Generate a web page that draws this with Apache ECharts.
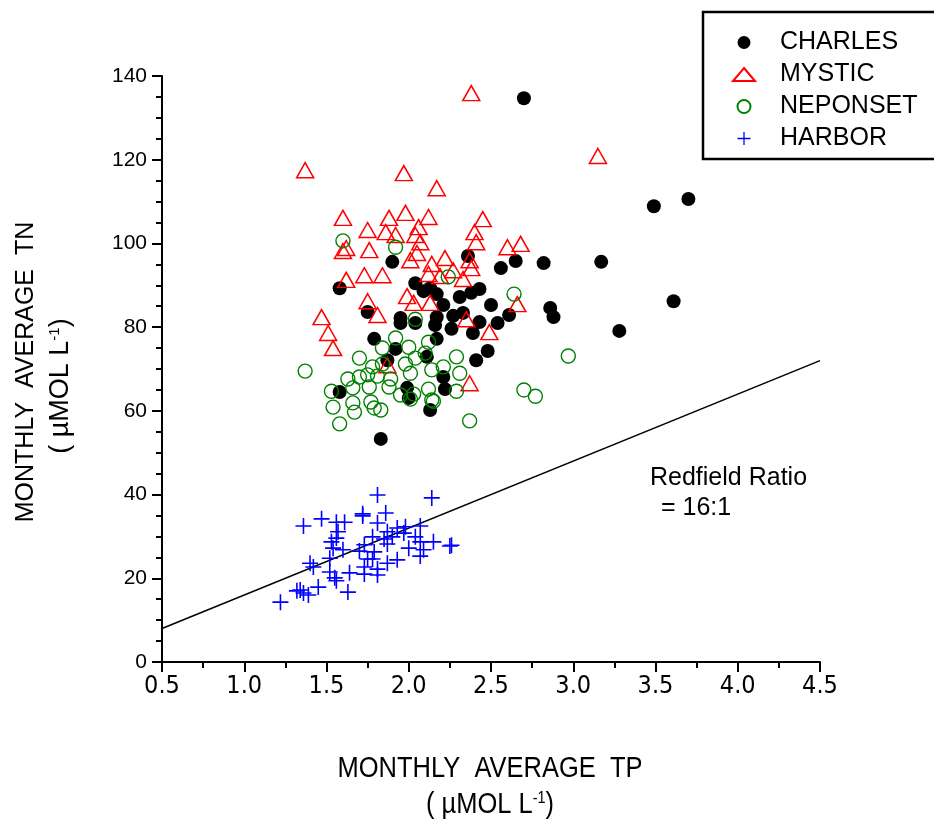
<!DOCTYPE html>
<html><head><meta charset="utf-8">
<script src="https://cdn.jsdelivr.net/npm/echarts@6/dist/echarts.min.js"></script>
<style>html,body{margin:0;padding:0;background:#fff}#c{width:934px;height:821px}</style>
</head><body><div id="c"></div>
<script>
// TP (x), TN (y) in umol/L
const charles = [
[2.70,134.7],[3.70,110.6],[3.49,108.9],[3.17,95.6],[3.61,86.2],[3.28,79.1],[2.86,84.6],[2.88,82.4],
[2.82,95.3],[2.65,95.8],[2.56,94.1],[2.61,82.9],[2.50,85.3],[2.43,89.1],[2.38,88.2],[2.31,87.2],
[2.27,82.7],[2.36,97.0],[1.90,95.6],[1.58,89.3],[1.75,83.6],[2.04,90.5],[2.13,89.3],[2.17,87.9],
[2.21,85.3],[1.95,82.2],[1.95,81.0],[2.17,82.4],[2.16,80.5],[2.26,79.6],[2.43,81.2],[2.54,81.0],
[2.39,78.6],[2.48,74.3],[2.41,72.1],[2.17,77.2],[1.79,77.2],[1.92,74.8],[1.87,72.1],[2.11,72.9],
[2.21,68.1],[2.22,65.2],[1.99,65.5],[2.00,63.1],[2.13,60.2],[1.58,64.5],[1.83,53.3],[2.33,83.4],
[2.04,81.0],[2.09,88.6]
];
const mystic = [
[2.38,135.9],[1.37,117.5],[1.97,116.8],[2.17,113.2],[3.15,120.9],[1.60,106.1],[1.75,103.2],[1.88,106.1],
[1.98,107.3],[2.12,106.3],[2.45,105.8],[2.40,102.7],[2.41,100.3],[2.60,99.1],[2.68,99.9],[1.86,102.7],
[1.92,102.0],[2.04,102.0],[2.06,103.9],[2.07,100.3],[1.76,98.4],[1.62,98.9],[2.05,97.7],[2.01,96.0],
[2.14,95.1],[2.22,96.5],[2.12,92.7],[2.19,92.2],[2.27,93.6],[2.37,96.0],[2.38,94.1],[2.33,91.5],
[1.62,91.3],[1.73,92.4],[1.84,92.4],[1.75,86.2],[1.99,87.4],[2.03,85.8],[2.13,85.8],[1.81,82.9],
[1.47,82.4],[2.35,81.9],[2.66,85.5],[1.51,78.6],[1.54,75.0],[2.49,78.8],[1.87,70.9],[2.37,66.6],
[1.60,98.2]
];
const neponset = [
[1.60,100.6],[1.92,99.1],[2.24,92.0],[2.64,87.9],[2.04,81.9],[1.92,77.4],[2.12,76.4],[1.84,75.0],
[2.00,75.2],[2.10,73.8],[2.04,72.6],[1.70,72.6],[1.78,70.5],[1.84,71.2],[1.98,71.2],[2.21,70.5],
[2.29,72.9],[2.01,69.0],[2.14,69.8],[2.31,69.0],[1.37,69.5],[2.97,73.1],[1.63,67.6],[1.70,68.1],
[1.81,68.3],[1.89,67.6],[1.76,65.7],[1.66,65.5],[1.53,64.7],[1.88,65.7],[1.95,63.8],[2.03,64.0],
[2.12,65.2],[2.14,62.6],[2.29,64.7],[2.01,62.8],[2.70,65.0],[2.77,63.5],[1.54,60.9],[1.66,61.9],
[1.67,59.7],[1.77,62.1],[1.79,60.7],[1.83,60.2],[1.58,56.9],[2.37,57.6],[2.15,62.3],[1.75,68.6]
];
const harbor = [
[1.81,39.9],[2.14,39.2],[1.86,35.6],[1.72,35.4],[1.72,34.9],[1.47,34.2],[1.36,32.5],[1.56,33.4],
[1.61,33.4],[1.81,33.2],[1.93,32.0],[1.98,32.3],[2.07,32.5],[1.57,31.1],[1.56,29.6],[1.53,28.7],
[1.87,31.1],[1.78,29.9],[1.85,29.4],[1.90,29.9],[1.97,30.8],[2.04,29.9],[2.07,28.7],[2.15,28.7],
[2.25,27.7],[2.26,27.9],[1.87,28.2],[2.09,26.8],[2.07,25.3],[2.00,27.2],[1.73,28.0],[1.70,26.5],
[1.60,26.8],[1.54,27.2],[1.52,24.8],[1.79,26.3],[1.78,24.6],[1.75,24.6],[1.93,24.4],[1.87,23.6],
[1.40,23.6],[1.42,22.7],[1.52,21.5],[1.55,20.1],[1.64,21.3],[1.73,22.7],[1.73,21.0],[1.81,22.2],
[1.81,20.8],[1.56,19.4],[1.45,17.9],[1.34,17.2],[1.36,16.5],[1.39,16.0],[1.63,16.7],[1.22,14.3],
[1.32,17.0]
];
// Redfield ratio line N:P = 16:1
const redfieldLine = [[0.5, 8], [4.5, 72]];
const seriesNames = ['CHARLES', 'MYSTIC', 'NEPONSET', 'HARBOR'];
const xAxisRange = [0.5, 4.5, 0.5];
const yAxisRange = [0, 140, 20];

const REG = '"Liberation Sans", Arial, sans-serif';
const NAR = '"Liberation Sans Narrow", "Arial Narrow", "DejaVu Sans Condensed", "Liberation Sans", sans-serif';
const plusPath = 'path://M7.2,0H8.8V16H7.2ZM0,7.2H16V8.8H0Z';

const chart = echarts.init(document.getElementById('c'), null, {renderer: 'canvas'});
chart.setOption({
  animation: false,
  backgroundColor: '#fff',
  grid: {left: 162, right: 114, top: 76, bottom: 159, containLabel: false},
  xAxis: {
    type: 'value', min: xAxisRange[0], max: xAxisRange[1], interval: xAxisRange[2],
    axisLine: {lineStyle: {color: '#000', width: 2}},
    axisTick: {length: 10, lineStyle: {color: '#000', width: 2}},
    minorTick: {show: true, splitNumber: 2, length: 6, lineStyle: {color: '#000', width: 2}},
    splitLine: {show: false},
    axisLabel: {color: '#000', fontSize: 25, fontFamily: NAR, margin: 12,
      formatter: v => v.toFixed(1)}
  },
  yAxis: {
    type: 'value', min: yAxisRange[0], max: yAxisRange[1], interval: yAxisRange[2],
    axisLine: {lineStyle: {color: '#000', width: 2}},
    axisTick: {length: 10, lineStyle: {color: '#000', width: 2}},
    minorTick: {show: true, splitNumber: 4, length: 6, lineStyle: {color: '#000', width: 2}},
    splitLine: {show: false},
    axisLabel: {color: '#000', fontSize: 21, fontFamily: REG, margin: 15}
  },
  legend: {
    orient: 'vertical', left: 727, top: 25,
    itemWidth: 22, itemHeight: 13, itemGap: 7,
    data: seriesNames,
    textStyle: {color: '#000', fontSize: 25, fontFamily: REG, lineHeight: 24, padding: [0, 0, 0, 20]}
  },
  graphic: [
    {type: 'rect', shape: {x: 703, y: 12, width: 240, height: 147},
     style: {fill: 'none', stroke: '#000', lineWidth: 2.5}, z: 100},
    {type: 'text', x: 650, y: 478, style: {text: 'Redfield Ratio', font: '25px ' + REG, fill: '#000', verticalAlign: 'middle'}},
    {type: 'text', x: 661, y: 508, style: {text: '= 16:1', font: '25px ' + REG, fill: '#000', verticalAlign: 'middle'}},
    {type: 'text', x: 490, y: 769, scaleX: 0.85, style: {text: 'MONTHLY  AVERAGE  TP', font: '30px ' + REG, fill: '#000', align: 'center', verticalAlign: 'middle'}},
    {type: 'text', x: 490, y: 805, scaleX: 0.85, style: {text: '( µMOL L{s|-1})', font: '30px ' + REG, fill: '#000', align: 'center', verticalAlign: 'middle',
      rich: {s: {fontSize: 17, fontFamily: REG, verticalAlign: 'top', lineHeight: 30}}}},
    {type: 'text', x: 26, y: 372, rotation: Math.PI / 2, style: {text: 'MONTHLY  AVERAGE  TN', font: '25px ' + REG, fill: '#000', align: 'center', verticalAlign: 'middle'}},
    {type: 'text', x: 61, y: 386, rotation: Math.PI / 2, style: {text: '( µMOL L{s|-1})', font: '27px ' + REG, fill: '#000', align: 'center', verticalAlign: 'middle',
      rich: {s: {fontSize: 15, fontFamily: REG, verticalAlign: 'top', lineHeight: 27}}}}
  ],
  series: [
    {name: 'CHARLES', type: 'scatter', symbol: 'circle', symbolSize: 14, data: charles,
     itemStyle: {color: '#000', opacity: 1}},
    {name: 'MYSTIC', type: 'scatter', symbol: 'triangle', symbolSize: [17, 15], data: mystic,
     itemStyle: {color: 'rgba(255,255,255,0)', borderColor: '#ff0000', borderWidth: 1.5, opacity: 1}},
    {name: 'NEPONSET', type: 'scatter', symbol: 'circle', symbolSize: 14, data: neponset,
     itemStyle: {color: 'rgba(255,255,255,0)', borderColor: '#008000', borderWidth: 1.4, opacity: 1}},
    {name: 'HARBOR', type: 'scatter', symbol: plusPath, symbolSize: 16, data: harbor,
     itemStyle: {color: '#0000ff', opacity: 1}},
    {name: 'Redfield', type: 'line', data: redfieldLine, symbol: 'none', silent: true,
     lineStyle: {color: '#000', width: 1.5}, z: 1}
  ]
});
</script></body></html>
